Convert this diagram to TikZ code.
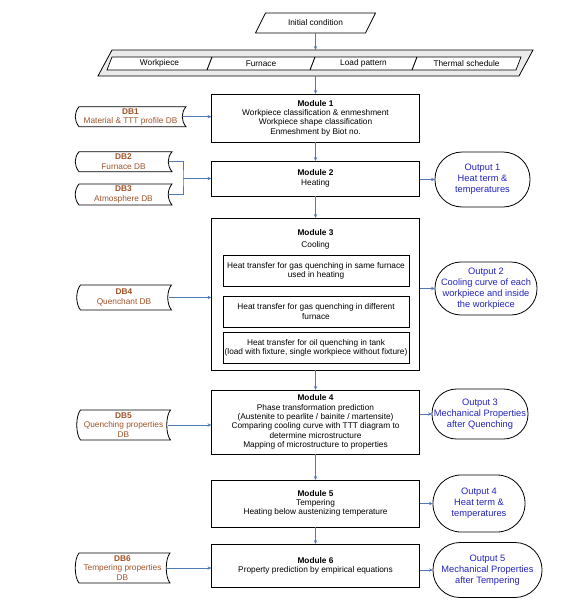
\documentclass[tikz,border=0pt]{standalone}
\usepackage{fontspec}
\setmainfont{Liberation Sans}
\usetikzlibrary{arrows.meta}
\definecolor{conncol}{RGB}{80,122,182}
\definecolor{dbcol}{RGB}{160,82,40}
\definecolor{outcol}{RGB}{35,35,190}
\newcommand\dboutline[1]{%
  \draw[line width=0.8pt] ([xshift=4pt]#1.north west) -- (#1.north east)
    .. controls +(-5,6) and +(-5,-6) .. (#1.south east)
    -- ([xshift=4pt]#1.south west)
    .. controls +(-5,-6) and +(-5,6) .. ([xshift=4pt]#1.north west) -- cycle;}
\begin{document}
\begin{tikzpicture}[x=1pt,y=-1pt,
  every node/.style={font=\fontsize{8.3}{9.3}\selectfont, inner sep=0pt, outer sep=0pt},
  modbox/.style={draw, line width=0.8pt, fill=white, minimum width=208pt, align=center},
  subbox/.style={draw, line width=0.7pt, minimum width=186pt, minimum height=31pt, align=center},
  dbnode/.style={text=dbcol, align=center},
  outnode/.style={draw, line width=0.8pt, rounded corners=#1, text=outcol,
    font=\fontsize{9.3}{11}\selectfont, align=center},
  conn/.style={draw=conncol, line width=0.7pt, -{Stealth[length=4pt,width=3.4pt]}},
  connline/.style={draw=conncol, line width=0.7pt}]
\useasboundingbox (0,0) rectangle (561,608);

% initial condition
\node[minimum width=110pt, minimum height=20pt] (ic) at (315.5,23) {Initial condition};
\draw[line width=0.8pt] ([xshift=5pt]ic.north west) -- ([xshift=5pt]ic.north east)
  -- ([xshift=-5pt]ic.south east) -- ([xshift=-5pt]ic.south west) -- cycle;

% band
\node[minimum width=421pt, minimum height=26pt] (band) at (315.5,63) {};
\draw[line width=0.8pt, fill=black!8] ([xshift=7pt]band.north west) -- ([xshift=7pt]band.north east)
  -- ([xshift=-7pt]band.south east) -- ([xshift=-7pt]band.south west) -- cycle;
\draw[line width=0.7pt, fill=white] (112,57) -- (521,57) -- (516,70) -- (107,70) -- cycle;
\draw[line width=0.9pt] (212,57) -- (207,70);
\draw[line width=0.9pt] (315,57) -- (310,70);
\draw[line width=0.9pt] (417,57) -- (412,70);
\node (c1) at (159.5,63.5) {Workpiece};
\node (c2) at (261,63.5) {Furnace};
\node (c3) at (363.5,63.5) {Load pattern};
\node (c4) at (466.5,63.5) {Thermal schedule};

% modules
\node[modbox, minimum height=48pt] (m1) at (315.5,118) {\textbf{Module 1}\\Workpiece classification \& enmeshment\\Workpiece shape classification\\Enmeshment by Biot no.};
\node[modbox, minimum height=35pt] (m2) at (315.5,178.5) {\textbf{Module 2}\\Heating};
\node[modbox, minimum height=152pt] (m3) at (315.5,294) {};
\node (m3t) at (315.5,233) {\textbf{Module 3}};
\node (m3c) at (315.5,245) {Cooling};
\node[subbox] (s1) at (316,270.5) {Heat transfer for gas quenching in same furnace\\used in heating};
\node[subbox] (s2) at (316,311.5) {Heat transfer for gas quenching in different\\furnace};
\node[subbox] (s3) at (316,347.5) {Heat transfer for oil quenching in tank\\(load with fixture, single workpiece without fixture)};
\node[modbox, minimum height=64pt] (m4) at (315.5,422) {\textbf{Module 4}\\Phase transformation prediction\\(Austenite to pearlite / bainite / martensite)\\Comparing cooling curve with TTT diagram to\\determine microstructure\\Mapping of microstructure to properties};
\node[modbox, minimum height=47pt] (m5) at (315.5,503.5) {\textbf{Module 5}\\Tempering\\Heating below austenizing temperature};
\node[modbox, minimum height=43pt] (m6) at (315.5,565.5) {\textbf{Module 6}\\Property prediction by empirical equations};

% databases
\node[dbnode, minimum width=111pt, minimum height=20pt] (db1) at (130.5,116.7) {\textbf{DB1}\\Material \& TTT profile DB};
\node[dbnode, minimum width=97pt, minimum height=20pt] (db2) at (123.5,161.7) {\textbf{DB2}\\Furnace DB};
\node[dbnode, minimum width=97pt, minimum height=21pt] (db3) at (123.5,194.5) {\textbf{DB3}\\Atmosphere DB};
\node[dbnode, minimum width=95pt, minimum height=25pt] (db4) at (124,297.5) {\textbf{DB4}\\Quenchant DB};
\node[dbnode, minimum width=94pt, minimum height=30pt] (db5) at (123.5,425) {\textbf{DB5}\\Quenching properties\\DB};
\node[dbnode, minimum width=95pt, minimum height=30pt] (db6) at (122.5,568) {\textbf{DB6}\\Tempering properties\\DB};
\dboutline{db1}\dboutline{db2}\dboutline{db3}\dboutline{db4}\dboutline{db5}\dboutline{db6}

% outputs
\node[outnode=27pt, minimum width=95pt, minimum height=55pt] (o1) at (482.5,179.5) {Output 1\\Heat term \&\\temperatures};
\node[outnode=26pt, minimum width=102pt, minimum height=53pt] (o2) at (486,288.5) {Output 2\\Cooling curve of each\\workpiece and inside\\the workpiece};
\node[outnode=24.5pt, minimum width=96pt, minimum height=50pt] (o3) at (480,414) {Output 3\\Mechanical Properties\\after Quenching};
\node[outnode=28pt, minimum width=92pt, minimum height=57pt] (o4) at (479,503.5) {Output 4\\Heat term \&\\temperatures};
\node[outnode=27pt, minimum width=109pt, minimum height=55pt] (o5) at (487.5,570) {Output 5\\Mechanical Properties\\after Tempering};

% connectors
\coordinate (jn) at (183,178.5);
\draw[conn] (ic.south) -- (band.north);
\draw[conn] (band.south) -- (m1.north);
\draw[conn] (m1.south) -- (m2.north);
\draw[conn] (m2.south) -- (m3.north);
\draw[conn] (m3.south) -- (m4.north);
\draw[conn] (m4.south) -- (m5.north);
\draw[conn] (m5.south) -- (m6.north);
\draw[conn] ([xshift=-3pt]db1.east) -- (m1.west |- db1.east);
\draw[connline] ([xshift=-3pt]db2.east) -| (jn) |- ([xshift=-3pt]db3.east);
\draw[conn] (jn) -- (m2.west |- jn);
\draw[conn] ([xshift=-3pt]db4.east) -- (m3.west |- db4.east);
\draw[conn] ([xshift=-3pt]db5.east) -- (m4.west |- db5.east);
\draw[conn] ([xshift=-3pt]db6.east) -- (m6.west |- db6.east);
\draw[conn] (m2.east |- o1.west) -- (o1.west);
\draw[conn] (m3.east |- o2.west) -- (o2.west);
\draw[conn] (m4.east |- o3.west) -- (o3.west);
\draw[conn] (m5.east |- o4.west) -- (o4.west);
\draw[conn] (m6.east |- o5.west) -- (o5.west);
\end{tikzpicture}
\end{document}
